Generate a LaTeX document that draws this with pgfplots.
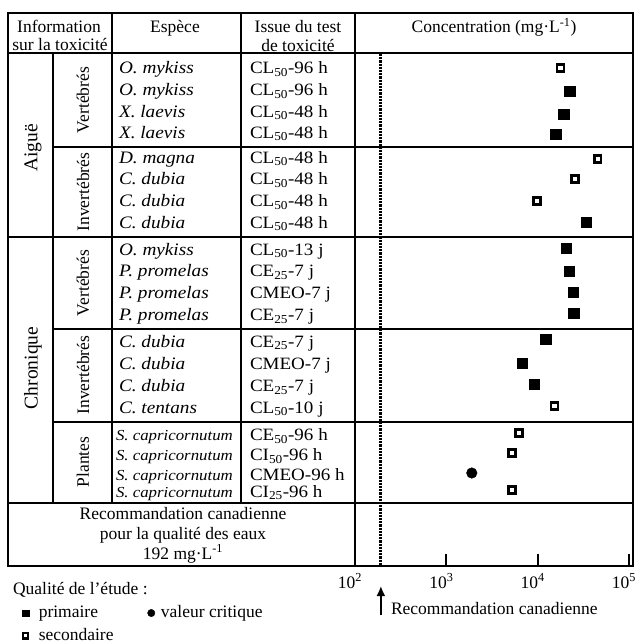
\documentclass[border=0pt]{standalone}
\usepackage{fontspec}
\setmainfont{Liberation Serif}
\newfontfamily\rowfont[FakeStretch=1.1]{Liberation Serif}
\usepackage{pgfplots}
\pgfplotsset{compat=1.18}
\usetikzlibrary{arrows.meta}
\begin{document}
\fontsize{17.5}{20}\selectfont
\begin{tikzpicture}
\useasboundingbox (0pt,0pt) rectangle (643pt,-644pt);
\begin{scope}[x=1pt,y=-1pt,every node/.style={inner sep=0pt,outer sep=0pt},font=\fontsize{17.5}{20}\selectfont]
% table frame
\draw[line width=2.6pt] (8,13) rectangle (633,566);
\draw[line width=2.3pt] (8,53) -- (633,53);
\draw[line width=2.3pt] (8,237) -- (633,237);
\draw[line width=2.3pt] (8,503) -- (633,503);
\draw[line width=2.3pt] (53,147) -- (633,147);
\draw[line width=2.3pt] (53,329) -- (633,329);
\draw[line width=2.3pt] (53,422) -- (633,422);
\draw[line width=2.3pt] (53,53) -- (53,503);
\draw[line width=2.3pt] (112,13) -- (112,503);
\draw[line width=2.3pt] (241,13) -- (241,503);
\draw[line width=2.3pt] (355,13) -- (355,566);
% header
\node[anchor=base] at (59,33) {Information};
\node[anchor=base] at (60,51) {sur la toxicité};
\node[anchor=base] at (175,33) {Espèce};
\node[anchor=base] at (298,33) {Issue du test};
\node[anchor=base] at (298,52) {de toxicité};
\node[anchor=base] at (494,33) {Concentration (mg·L\textsuperscript{-1})};
% group labels
\node[rotate=90,font=\fontsize{19.5}{22}\selectfont] at (33,148) {Aiguë};
\node[rotate=90,font=\fontsize{19.5}{22}\selectfont] at (33,368) {Chronique};
\node[rotate=90] at (83,100) {Vertébrés};
\node[rotate=90] at (83,192) {Invertébrés};
\node[rotate=90] at (83,283) {Vertébrés};
\node[rotate=90] at (83,375) {Invertébrés};
\node[rotate=90] at (83,462) {Plantes};
% species
\foreach \y/\t in {74/O. mykiss,96/O. mykiss,117.3/X. laevis,138.3/X. laevis,
  163.3/D. magna,185/C. dubia,206.7/C. dubia,228.3/C. dubia,
  255/O. mykiss,276.7/P. promelas,298.3/P. promelas,320.7/P. promelas,
  347.3/C. dubia,369.3/C. dubia,391.7/C. dubia,413.3/C. tentans}
  {\node[anchor=base west] at (119,\y) {\rowfont\fontsize{17.5}{20}\selectfont\textit{\t}};}
\foreach \y in {440.7,460.7,480.7,497.3}
  {\node[anchor=base west] at (116,\y) {\rowfont\fontsize{15.3}{17}\selectfont\textit{S. capricornutum}};}
% tests
\foreach \y/\t in {74/CL\textsubscript{50}-96 h,96/CL\textsubscript{50}-96 h,117.3/CL\textsubscript{50}-48 h,138.3/CL\textsubscript{50}-48 h,
  163.3/CL\textsubscript{50}-48 h,185/CL\textsubscript{50}-48 h,206.7/CL\textsubscript{50}-48 h,228.3/CL\textsubscript{50}-48 h,
  255/CL\textsubscript{50}-13 j,276.7/CE\textsubscript{25}-7 j,298.3/CMEO-7 j,320.7/CE\textsubscript{25}-7 j,
  347.3/CE\textsubscript{25}-7 j,369.3/CMEO-7 j,391.7/CE\textsubscript{25}-7 j,413.3/CL\textsubscript{50}-10 j,
  440.7/CE\textsubscript{50}-96 h,460.7/CI\textsubscript{50}-96 h,480.7/CMEO-96 h,497.3/CI\textsubscript{25}-96 h}
  {\node[anchor=base west] at (250,\y) {\rowfont\fontsize{17.3}{20}\selectfont \t};}
% recommendation row
\node[anchor=base] at (183,519) {Recommandation canadienne};
\node[anchor=base] at (183,539) {pour la qualité des eaux};
\node[anchor=base] at (183,559) {192 mg·L\textsuperscript{-1}};
% legend title and guideline note
\node[anchor=base west] at (13,594) {Qualité de l’étude :};
\node[anchor=base west] at (391,614) {Recommandation canadienne};
\end{scope}
\begin{axis}[
  at={(355pt,-566pt)}, anchor=south west,
  width=278pt, height=513pt, scale only axis,
  xmode=log, xmin=100, xmax=110600,
  ymin=-566, ymax=-53,
  axis x line*=bottom, axis y line=none,
  axis line style={line width=2.6pt},
  xtick={100,1000,10000,100000},
  xticklabels={10\textsuperscript{2},10\textsuperscript{3},10\textsuperscript{4},10\textsuperscript{5}},
  xminorticks=false,
  tick align=inside, major tick length=12pt,
  every tick/.style={line width=1.8pt,black},
  xticklabel style={anchor=base,xshift=-5pt,yshift=-22pt,font=\fontsize{17.5}{20}\selectfont},
  clip=false,
  legend columns=2,
  legend style={at={(-1.198,-0.073)},anchor=north west,draw=none,fill=none,inner sep=0pt,
    font=\fontsize{17.5}{20}\selectfont,row sep=4pt,
    /tikz/every even column/.append style={column sep=32pt}},
  legend cell align=left,
]
\addlegendimage{only marks,mark=square*,mark size=3.3pt,black}
\addlegendentry{\hspace*{8pt}primaire}
\addlegendimage{only marks,mark=*,mark size=3.7pt,black}
\addlegendentry{\hspace*{4pt}valeur critique}
\addlegendimage{only marks,mark=square,mark size=2.6pt,line width=2.2pt,black}
\addlegendentry{\hspace*{8pt}secondaire}
\addplot[only marks,mark=square*,mark size=5.2pt,black,forget plot] coordinates {
(22400,-91) (19200,-114) (15700,-134) (34000,-222) (20400,-248) (22200,-271)
(24300,-292) (24700,-313) (12200,-339) (6800,-363) (9100,-384)};
\addplot[only marks,mark=*,mark size=5.3pt,black,forget plot] coordinates {(1900,-473)};
\addplot[only marks,mark=square,mark size=3.4pt,line width=2.4pt,black,forget plot] coordinates {
(17700,-68) (45600,-159) (25600,-179) (9840,-201) (15300,-406) (6250,-433)
(5240,-453) (5240,-490)};
\addplot[black,line width=2.8pt,dash pattern=on 2.2pt off 1pt,forget plot] coordinates {(192,-54) (192,-566)};
\draw[line width=1.8pt,-{Latex[length=10pt,width=9pt]}] (axis cs:192,-615) -- (axis cs:192,-586);
\end{axis}
\end{tikzpicture}
\end{document}
